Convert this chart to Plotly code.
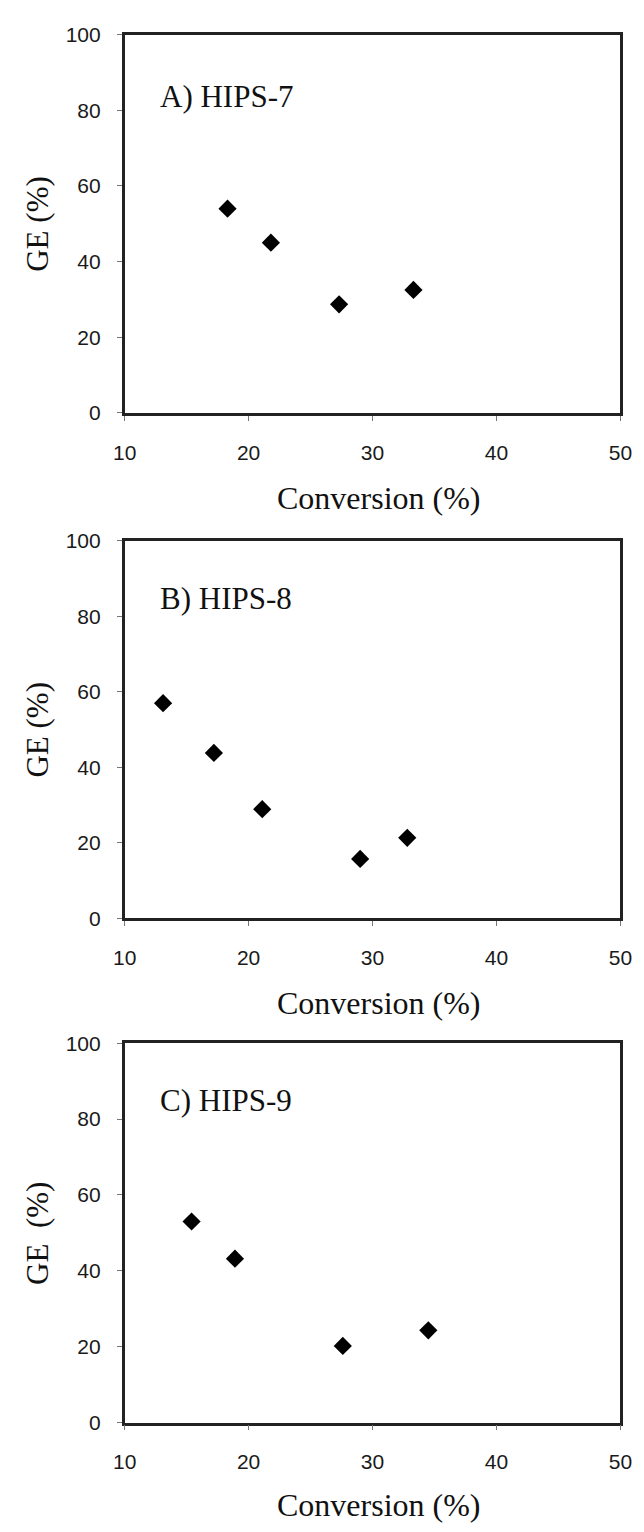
import plotly.graph_objects as go

W, H = 644, 1532

panel_labels = ["A) HIPS-7", "B) HIPS-8", "C) HIPS-9"]
y_titles = ["GE (%)", "GE (%)", "GE\u00a0\u00a0(%)"]
x_title = "Conversion (%)"

conv_A = [18.3, 21.8, 27.3, 33.3]
ge_A = [54.0, 45.0, 28.7, 32.5]
conv_B = [13.1, 17.2, 21.1, 29.0, 32.8]
ge_B = [57.0, 43.8, 28.9, 15.7, 21.3]
conv_C = [15.4, 18.9, 27.6, 34.5]
ge_C = [53.0, 43.2, 20.2, 24.3]

x_ticks = [10, 20, 30, 40, 50]
y_ticks = [0, 20, 40, 60, 80, 100]

series = [(conv_A, ge_A), (conv_B, ge_B), (conv_C, ge_C)]

# pixel layout (top, bottom) of each plot area
tops = [23, 537, 1047]
bots = [407, 920, 1432]
label_off = [63, 58, 58]
title_y = [493, 1006, 1516]
x0, x1 = 117, 632

fig = go.Figure()
tick_font = dict(family="Liberation Sans, Arial", size=21, color="#1a1a1a")
serif = "Liberation Serif, Times New Roman"

for i, (xs, ys) in enumerate(series):
    n = "" if i == 0 else str(i + 1)
    fig.add_trace(go.Scatter(
        x=xs, y=ys, mode="markers",
        marker=dict(symbol="diamond", size=14, color="black"),
        xaxis="x" + n, yaxis="y" + n, showlegend=False,
    ))
    dom_y = [1 - bots[i] / H, 1 - tops[i] / H]
    ax = dict(
        range=[10, 50], tickvals=x_ticks, domain=[x0 / W, x1 / W],
        showline=True, linecolor="#222", linewidth=2.5, mirror=True,
        ticks="outside", ticklen=5, tickcolor="#777", tickwidth=1,
        showgrid=False, zeroline=False, tickfont=tick_font,
        ticklabelstandoff=14, anchor="y" + n, fixedrange=True,
    )
    ay = dict(
        range=[0, 100], tickvals=y_ticks, domain=dom_y,
        showline=True, linecolor="#222", linewidth=2.5, mirror=True,
        ticks="outside", ticklen=5, tickcolor="#777", tickwidth=1,
        showgrid=False, zeroline=False, tickfont=tick_font,
        ticklabelstandoff=12, anchor="x" + n, fixedrange=True,
    )
    fig.update_layout(**{"xaxis" + n: ax, "yaxis" + n: ay})

    fig.add_annotation(
        text=panel_labels[i], xref="paper", yref="paper",
        x=152 / W, y=1 - (tops[i] + label_off[i]) / H,
        xanchor="left", yanchor="middle", showarrow=False,
        font=dict(family=serif, size=31, color="#111"),
    )
    fig.add_annotation(
        text=x_title, xref="paper", yref="paper",
        x=381 / W, y=1 - title_y[i] / H,
        xanchor="center", yanchor="middle", showarrow=False,
        font=dict(family=serif, size=32, color="#111"),
    )
    fig.add_annotation(
        text=y_titles[i], xref="paper", yref="paper",
        x=27 / W, y=1 - (tops[i] + bots[i]) / 2 / H,
        xanchor="center", yanchor="middle", showarrow=False, textangle=-90,
        font=dict(family=serif, size=31, color="#111"),
    )

fig.update_layout(
    width=W, height=H, margin=dict(l=0, r=0, t=0, b=0),
    paper_bgcolor="white", plot_bgcolor="white",
)

fig.write_html("out.html", config={"displayModeBar": False})
